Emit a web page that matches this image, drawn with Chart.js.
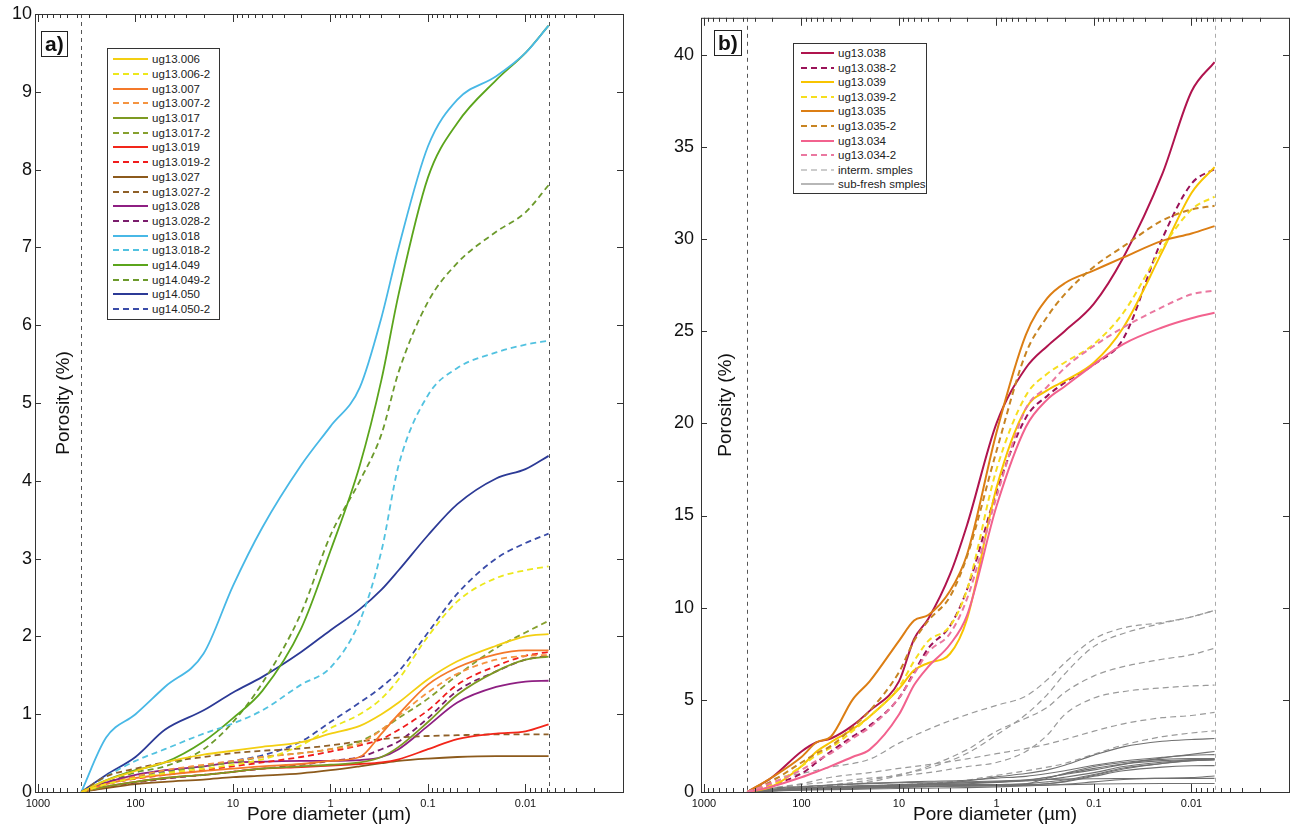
<!DOCTYPE html>
<html>
<head>
<meta charset="utf-8">
<script src="https://cdn.jsdelivr.net/npm/chart.js@4.4.1/dist/chart.umd.min.js"></script>
<style>
  body { margin: 0; background: #fff; width: 1294px; height: 837px; position: relative; overflow: hidden;
         font-family: "Liberation Sans", Arial, sans-serif; }
  canvas { position: absolute; top: 0; }
  #chartA { left: 0; }
  #chartB { left: 645px; }
  .legend { position: absolute; border: 1px solid #333; background: #fff; font-size: 11.5px; color: #222; box-sizing: border-box; }
  .legend .row { display: flex; align-items: center; white-space: nowrap; }
  .legend svg { flex: none; margin-right: 4px; }
  .tag { position: absolute; border: 1.5px solid #222; font-weight: bold; font-size: 21px; line-height: 24px; padding: 0 3px; color: #111; }
</style>
</head>
<body>
<canvas id="chartA" width="645" height="837"></canvas>
<canvas id="chartB" width="649" height="837"></canvas>
<div class="tag" style="left:41px; top:31px;">a)</div>
<div class="tag" style="left:714px; top:30px;">b)</div>
<div class="legend" id="legendA" style="left:107px; top:48px; width:113px; padding:3px 0 3px 5px;"></div>
<div class="legend" id="legendB" style="left:793px; top:43px; width:134px; padding:2px 0 2px 7px;"></div>
<script>
// pore diameters (µm) where the curves were read, panel a and the grey curves of panel b
const diamA = [360, 200, 100, 50, 20, 10, 5, 2, 1, 0.5, 0.3, 0.2, 0.1, 0.05, 0.02, 0.01, 0.0058];

// cumulative porosity (%) panel a
const ug13_006   = [0, 0.15, 0.27, 0.38, 0.48, 0.53, 0.58, 0.64, 0.75, 0.85, 1.0, 1.15, 1.45, 1.68, 1.88, 2.0, 2.03];
const ug13_006_2 = [0, 0.1, 0.18, 0.24, 0.3, 0.35, 0.42, 0.6, 0.82, 1.0, 1.2, 1.45, 2.0, 2.45, 2.75, 2.85, 2.9];
const ug13_007   = [0, 0.1, 0.18, 0.22, 0.27, 0.3, 0.33, 0.36, 0.4, 0.45, 0.75, 1.0, 1.38, 1.6, 1.77, 1.82, 1.82];
const ug13_007_2 = [0, 0.1, 0.2, 0.28, 0.35, 0.4, 0.45, 0.5, 0.55, 0.62, 0.8, 0.98, 1.28, 1.52, 1.7, 1.75, 1.76];
const ug13_017   = [0, 0.07, 0.13, 0.18, 0.22, 0.26, 0.3, 0.33, 0.35, 0.38, 0.45, 0.58, 0.9, 1.25, 1.55, 1.7, 1.74];
const ug13_017_2 = [0, 0.1, 0.18, 0.25, 0.33, 0.38, 0.45, 0.5, 0.55, 0.65, 0.8, 0.95, 1.2, 1.5, 1.85, 2.05, 2.2];
const ug13_019   = [0, 0.07, 0.13, 0.18, 0.22, 0.26, 0.3, 0.32, 0.34, 0.36, 0.38, 0.42, 0.55, 0.68, 0.75, 0.78, 0.87];
const ug13_019_2 = [0, 0.1, 0.17, 0.22, 0.28, 0.33, 0.38, 0.45, 0.52, 0.6, 0.68, 0.8, 1.05, 1.38, 1.62, 1.75, 1.8];
const ug13_027   = [0, 0.05, 0.1, 0.13, 0.16, 0.19, 0.21, 0.24, 0.28, 0.33, 0.37, 0.4, 0.43, 0.45, 0.46, 0.46, 0.46];
const ug13_027_2 = [0, 0.2, 0.3, 0.38, 0.45, 0.5, 0.53, 0.56, 0.6, 0.65, 0.68, 0.7, 0.72, 0.73, 0.74, 0.74, 0.74];
const ug13_028   = [0, 0.12, 0.22, 0.28, 0.33, 0.38, 0.39, 0.4, 0.4, 0.41, 0.45, 0.55, 0.85, 1.15, 1.35, 1.42, 1.43];
const ug13_028_2 = [0, 0.06, 0.12, 0.17, 0.22, 0.26, 0.3, 0.35, 0.4, 0.45, 0.55, 0.65, 0.95, 1.3, 1.55, 1.7, 1.75];
const ug13_018   = [0, 0.7, 1.0, 1.35, 1.78, 2.65, 3.4, 4.2, 4.7, 5.2, 6.1, 7.0, 8.3, 8.9, 9.2, 9.5, 9.85];
const ug13_018_2 = [0, 0.2, 0.4, 0.55, 0.75, 0.88, 1.05, 1.38, 1.6, 2.2, 3.1, 4.2, 5.1, 5.45, 5.65, 5.75, 5.8];
const ug14_049   = [0, 0.15, 0.28, 0.38, 0.65, 0.95, 1.3, 2.1, 3.1, 4.2, 5.3, 6.4, 7.9, 8.6, 9.15, 9.5, 9.85];
const ug14_049_2 = [0, 0.12, 0.25, 0.33, 0.55, 0.9, 1.4, 2.3, 3.3, 4.0, 4.6, 5.4, 6.3, 6.8, 7.2, 7.45, 7.8];
const ug14_050   = [0, 0.22, 0.45, 0.8, 1.05, 1.28, 1.48, 1.8, 2.08, 2.35, 2.6, 2.85, 3.3, 3.7, 4.03, 4.15, 4.32];
const ug14_050_2 = [0, 0.12, 0.2, 0.27, 0.33, 0.4, 0.47, 0.65, 0.9, 1.15, 1.35, 1.55, 2.05, 2.55, 3.0, 3.2, 3.32];

// panel b coloured curves
const diamB = [360, 200, 100, 70, 50, 30, 20, 10, 7, 5, 3, 2, 1, 0.5, 0.3, 0.2, 0.1, 0.05, 0.02, 0.01, 0.0058];
const ug13_038   = [0, 0.8, 2.2, 2.7, 2.9, 3.6, 4.4, 6.0, 8.3, 9.4, 11.8, 14.5, 20.0, 23.0, 24.2, 25.0, 26.5, 29.0, 33.5, 38.0, 39.6];
const ug13_038_2 = [0, 0.4, 1.0, 1.6, 2.2, 3.0, 3.6, 5.1, 6.5, 7.8, 9.0, 11.0, 16.3, 20.3, 21.5, 22.2, 23.2, 24.6, 30.0, 33.0, 33.8];
const ug13_039   = [0, 0.3, 1.4, 2.2, 2.7, 3.4, 4.1, 5.6, 6.6, 7.0, 7.5, 9.4, 16.5, 20.8, 21.8, 22.3, 23.3, 25.2, 29.3, 32.5, 33.9];
const ug13_039_2 = [0, 0.4, 1.4, 2.0, 2.4, 3.3, 4.1, 5.7, 7.1, 8.2, 9.0, 11.0, 17.5, 21.5, 22.7, 23.3, 24.3, 26.0, 29.5, 31.6, 32.3];
const ug13_035   = [0, 0.8, 1.9, 2.7, 3.0, 5.0, 6.0, 8.2, 9.3, 9.6, 10.9, 12.9, 19.5, 24.8, 26.8, 27.6, 28.3, 29.0, 29.9, 30.3, 30.7];
const ug13_035_2 = [0, 0.6, 1.6, 2.1, 2.5, 3.5, 4.4, 6.5, 8.2, 9.3, 10.6, 12.8, 18.5, 23.8, 25.8, 27.0, 28.5, 29.6, 31.0, 31.6, 31.8];
const ug13_034   = [0, 0.3, 0.8, 1.1, 1.4, 1.9, 2.3, 4.2, 5.8, 6.8, 8.0, 9.6, 15.5, 19.8, 21.3, 22.0, 23.2, 24.3, 25.2, 25.7, 26.0];
const ug13_034_2 = [0, 0.5, 1.2, 1.7, 2.1, 2.9, 3.5, 5.1, 6.4, 7.6, 8.6, 10.5, 16.0, 20.8, 22.0, 23.0, 24.2, 25.2, 26.3, 27.0, 27.2];

const xLabelValues = [1000, 100, 10, 1, 0.1, 0.01];

const seriesA = [
  { label: "ug13.006",   data: ug13_006,   color: "#f3cf12", dash: false },
  { label: "ug13.006-2", data: ug13_006_2, color: "#ece81c", dash: true },
  { label: "ug13.007",   data: ug13_007,   color: "#f4792a", dash: false },
  { label: "ug13.007-2", data: ug13_007_2, color: "#f59440", dash: true },
  { label: "ug13.017",   data: ug13_017,   color: "#7d9a22", dash: false },
  { label: "ug13.017-2", data: ug13_017_2, color: "#86a02e", dash: true },
  { label: "ug13.019",   data: ug13_019,   color: "#f2261a", dash: false },
  { label: "ug13.019-2", data: ug13_019_2, color: "#f01c1c", dash: true },
  { label: "ug13.027",   data: ug13_027,   color: "#8c5a1c", dash: false },
  { label: "ug13.027-2", data: ug13_027_2, color: "#8f6028", dash: true },
  { label: "ug13.028",   data: ug13_028,   color: "#8e1f82", dash: false },
  { label: "ug13.028-2", data: ug13_028_2, color: "#7a1c6c", dash: true },
  { label: "ug13.018",   data: ug13_018,   color: "#48b8e6", dash: false },
  { label: "ug13.018-2", data: ug13_018_2, color: "#52c2e0", dash: true },
  { label: "ug14.049",   data: ug14_049,   color: "#5ba51c", dash: false },
  { label: "ug14.049-2", data: ug14_049_2, color: "#6c9a2c", dash: true },
  { label: "ug14.050",   data: ug14_050,   color: "#2c3a96", dash: false },
  { label: "ug14.050-2", data: ug14_050_2, color: "#3a4ca8", dash: true }
];

const seriesB = [
  { label: "ug13.038",   data: ug13_038,   color: "#b0144e", dash: false },
  { label: "ug13.038-2", data: ug13_038_2, color: "#9a1258", dash: true },
  { label: "ug13.039",   data: ug13_039,   color: "#f8c400", dash: false },
  { label: "ug13.039-2", data: ug13_039_2, color: "#f6de1e", dash: true },
  { label: "ug13.035",   data: ug13_035,   color: "#dc7e14", dash: false },
  { label: "ug13.035-2", data: ug13_035_2, color: "#c88422", dash: true },
  { label: "ug13.034",   data: ug13_034,   color: "#f2628e", dash: false },
  { label: "ug13.034-2", data: ug13_034_2, color: "#ea78a0", dash: true }
];

// grey curves of panel b: samples of panel a
const intermSamples = [ug13_018, ug13_018_2, ug14_049, ug14_049_2, ug14_050, ug14_050_2];
const subFreshSamples = [ug13_006, ug13_006_2, ug13_007, ug13_007_2, ug13_017, ug13_017_2,
                         ug13_019, ug13_019_2, ug13_027, ug13_027_2, ug13_028, ug13_028_2];

const GREY_DASH = "#9a9a9a";
const GREY_SOLID = "#707070";

Chart.defaults.font.family = "'Liberation Sans', Arial, sans-serif";
Chart.defaults.color = "#111";

function makeSet(x, values, label, color, dash, width) {
  return {
    label: label,
    data: values.map((v, i) => ({ x: x[i], y: v })),
    borderColor: color,
    backgroundColor: color,
    borderWidth: width,
    borderDash: dash ? [6, 4] : [],
    pointRadius: 0,
    cubicInterpolationMode: "monotone",
    fill: false
  };
}

function isPow10(v) {
  const l = Math.log10(v);
  return Math.abs(l - Math.round(l)) < 1e-6;
}

function isWholeStep(v) {
  const m = v / Math.pow(10, Math.floor(Math.log10(v) + 1e-9));
  return Math.abs(m - Math.round(m)) < 1e-6;
}

// frame, inward ticks, limit lines and axis titles drawn like the original figure
const framePlugin = {
  id: "frame",
  beforeDatasetsDraw(chart, args, opts) {
    const { ctx, chartArea: a, scales: { x } } = chart;
    ctx.save();
    ctx.lineWidth = 1;
    ctx.setLineDash([4, 4]);
    opts.limits.forEach((v, i) => {
      const px = Math.round(x.getPixelForValue(v)) + 0.5;
      ctx.strokeStyle = opts.limitColors[i];
      ctx.beginPath();
      ctx.moveTo(px, a.top);
      ctx.lineTo(px, a.bottom);
      ctx.stroke();
    });
    ctx.restore();
  },
  afterDraw(chart, args, opts) {
    const { ctx, chartArea: a, scales: { x, y } } = chart;
    ctx.save();
    ctx.strokeStyle = "#333";
    ctx.lineWidth = 1;
    ctx.strokeRect(a.left + 0.5, a.top + 0.5, a.right - a.left, a.bottom - a.top);
    ctx.beginPath();
    x.ticks.forEach(t => {
      if (!isWholeStep(t.value)) return;
      const px = Math.round(x.getPixelForValue(t.value)) + 0.5;
      if (px <= a.left + 1 || px >= a.right - 1) return;
      const len = isPow10(t.value) ? 8 : 4;
      ctx.moveTo(px, a.bottom);
      ctx.lineTo(px, a.bottom - len);
      ctx.moveTo(px, a.top);
      ctx.lineTo(px, a.top + len);
    });
    y.ticks.forEach(t => {
      const py = Math.round(y.getPixelForValue(t.value)) + 0.5;
      if (py <= a.top + 1 || py >= a.bottom - 1) return;
      ctx.moveTo(a.left, py);
      ctx.lineTo(a.left + 6, py);
      ctx.moveTo(a.right, py);
      ctx.lineTo(a.right - 6, py);
    });
    ctx.stroke();

    ctx.fillStyle = "#111";
    ctx.font = "19px 'Liberation Sans', Arial, sans-serif";
    ctx.textAlign = "center";
    ctx.textBaseline = "middle";
    ctx.fillText("Pore diameter (\u00b5m)", (a.left + a.right) / 2, 815);
    ctx.translate(a.left + opts.yTitleGap, (a.top + a.bottom) / 2);
    ctx.rotate(-Math.PI / 2);
    ctx.fillText("Porosity (%)", 0, 0);
    ctx.restore();
  }
};

function panelOptions(yMax, yStep, yWidth, yPad, padRight, limitColors, yTitleGap, limits) {
  return {
    responsive: false,
    animation: false,
    events: [],
    layout: { padding: { top: 14, right: padRight, left: 0, bottom: 0 } },
    plugins: {
      legend: { display: false },
      tooltip: { enabled: false },
      frame: { limits: limits, limitColors: limitColors, yTitleGap: yTitleGap }
    },
    scales: {
      x: {
        type: "logarithmic",
        reverse: true,
        min: 0.001,
        max: 1073,
        grid: { display: false, drawTicks: false },
        border: { display: false },
        afterFit(scale) { scale.height = 45; },
        ticks: {
          autoSkip: false,
          maxRotation: 0,
          minRotation: 0,
          padding: 5,
          font: { size: 11 },
          callback(v) {
            return xLabelValues.some(l => Math.abs(Math.log10(v) - Math.log10(l)) < 1e-6) ? String(Number(v.toPrecision(1))) : "";
          }
        }
      },
      y: {
        type: "linear",
        min: 0,
        max: yMax,
        grid: { display: false, drawTicks: false },
        border: { display: false },
        afterFit(scale) { scale.width = yWidth; },
        ticks: { stepSize: yStep, includeBounds: false, padding: yPad, font: { size: 18 } }
      }
    }
  };
}

const setsA = seriesA.map(s => makeSet(diamA, s.data, s.label, s.color, s.dash, 1.8));

const setsB = [];
intermSamples.forEach(v => setsB.push(makeSet(diamA, v, "interm. smples", GREY_DASH, true, 1.2)));
subFreshSamples.forEach(v => setsB.push(makeSet(diamA, v, "sub-fresh smples", GREY_SOLID, false, 1.1)));
seriesB.forEach(s => setsB.push(makeSet(diamB, s.data, s.label, s.color, s.dash, 2)));
setsB.forEach((d, i) => { d.order = setsB.length - i; });

new Chart(document.getElementById("chartA"), {
  type: "line",
  data: { datasets: setsA },
  options: panelOptions(10, 1, 35, 3, 22, ["#555", "#555"], 29, [diamA[0], diamA[diamA.length - 1]]),
  plugins: [framePlugin]
});

new Chart(document.getElementById("chartB"), {
  type: "line",
  data: { datasets: setsB },
  options: panelOptions(42, 5, 56, 7, 2, ["#555", "#aaa"], 25, [diamB[0], diamB[diamB.length - 1]]),
  plugins: [framePlugin]
});

function buildLegend(id, items, rowH, lineW) {
  const box = document.getElementById(id);
  items.forEach(it => {
    const row = document.createElement("div");
    row.className = "row";
    row.style.height = rowH + "px";
    const dash = it.dash ? 'stroke-dasharray="6 4"' : "";
    row.innerHTML = `<svg width="${lineW}" height="6"><line x1="0" y1="3" x2="${lineW}" y2="3" stroke="${it.color}" stroke-width="${it.width || 2}" ${dash}/></svg><span>${it.label}</span>`;
    box.appendChild(row);
  });
}

buildLegend("legendA", seriesA, 14.7, 35);
buildLegend("legendB", seriesB.concat([
  { label: "interm. smples", color: GREY_DASH, dash: true, width: 1.2 },
  { label: "sub-fresh smples", color: GREY_SOLID, dash: false, width: 1.1 }
]), 14.55, 33);
</script>
</body>
</html>
